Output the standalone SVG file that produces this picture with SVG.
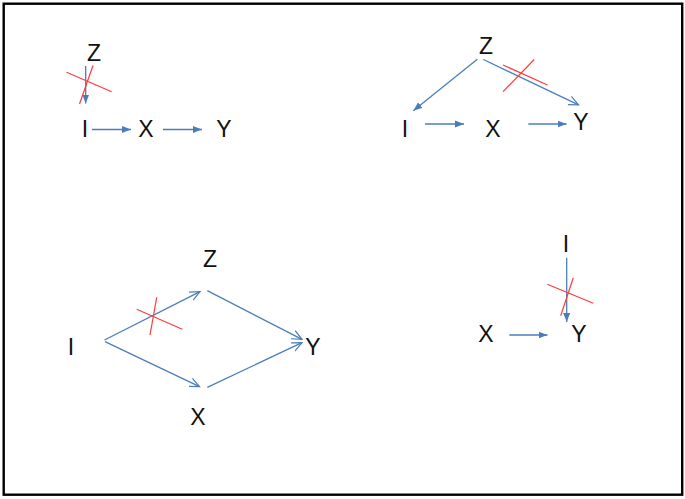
<svg xmlns="http://www.w3.org/2000/svg" width="685" height="499" viewBox="0 0 685 499">
<defs>
<marker id="fill" markerWidth="10" markerHeight="8" refX="9" refY="4" orient="auto" markerUnits="userSpaceOnUse">
<path d="M0,0.5 L9,4 L0,7.5 Z" fill="#4A7EBB"/>
</marker>
<marker id="open" markerWidth="12" markerHeight="12" refX="10" refY="6" orient="auto" markerUnits="userSpaceOnUse">
<path d="M0,1.5 L10,6 L0,10.5" fill="none" stroke="#4A7EBB" stroke-width="1.2"/>
</marker>
</defs>
<style>
text{font-family:"Liberation Sans",Arial,sans-serif;font-size:23px;fill:#111;text-anchor:middle}
.a{stroke:#4A7EBB;stroke-width:1.3;fill:none}
.f{marker-end:url(#fill)}
.o{marker-end:url(#open)}
.x{stroke:#FF3B3B;stroke-width:1.2;fill:none}
</style>
<rect x="3.7" y="3.7" width="678.5" height="491" fill="#fff" stroke="#000" stroke-width="2.4"/>
<g id="d1">
<g id="d1-Z"><text x="94" y="61">Z</text></g>
<g id="d1-I"><text x="85" y="137">I</text></g>
<g id="d1-X"><text x="146" y="137">X</text></g>
<g id="d1-Y"><text x="224" y="137">Y</text></g>
</g>
<g id="d2">
<g id="d2-Z"><text x="486" y="54">Z</text></g>
<g id="d2-I"><text x="405" y="137">I</text></g>
<g id="d2-X"><text x="493" y="137">X</text></g>
<g id="d2-Y"><text x="581" y="130">Y</text></g>
</g>
<g id="d3">
<g id="d3-Z"><text x="210" y="267">Z</text></g>
<g id="d3-I"><text x="71" y="355">I</text></g>
<g id="d3-X"><text x="198" y="425">X</text></g>
<g id="d3-Y"><text x="313" y="355">Y</text></g>
</g>
<g id="d4">
<g id="d4-I"><text x="566" y="252">I</text></g>
<g id="d4-X"><text x="486" y="342">X</text></g>
<g id="d4-Y"><text x="579" y="342">Y</text></g>
</g>
<g id="connectors">
<line class="a f" x1="85.7" y1="66" x2="85.7" y2="103.5"/>
<line class="a f" x1="92" y1="129.5" x2="131" y2="129.5"/>
<line class="a f" x1="163" y1="129.5" x2="202" y2="129.5"/>
<line class="a f" x1="477.3" y1="59.3" x2="413.3" y2="110.7"/>
<line class="a o" x1="483.3" y1="59.5" x2="578.5" y2="104.8"/>
<line class="a f" x1="425" y1="124" x2="464" y2="124"/>
<line class="a f" x1="528.3" y1="124" x2="566.5" y2="124"/>
<line class="a o" x1="104.5" y1="340" x2="200" y2="291.7"/>
<line class="a o" x1="105" y1="341.7" x2="199.5" y2="386.7"/>
<line class="a o" x1="207.3" y1="290.7" x2="302" y2="339.3"/>
<line class="a o" x1="207.3" y1="387.3" x2="302" y2="342.7"/>
<line class="a f" x1="566.7" y1="257.7" x2="566.7" y2="322"/>
<line class="a f" x1="509.3" y1="335" x2="547.5" y2="335"/>
</g>
<g id="cuts">
<line class="x" x1="66.5" y1="72.3" x2="111.7" y2="91.7"/>
<line class="x" x1="93" y1="65.5" x2="79.5" y2="104"/>
<line class="x" x1="503" y1="65" x2="547.5" y2="85"/>
<line class="x" x1="534.2" y1="59.5" x2="503" y2="91.7"/>
<line class="x" x1="136.7" y1="309.3" x2="182.3" y2="329.3"/>
<line class="x" x1="156.7" y1="297.3" x2="150" y2="335"/>
<line class="x" x1="547.3" y1="284.3" x2="593.3" y2="303.3"/>
<line class="x" x1="573.3" y1="277.7" x2="560.7" y2="315.7"/>
</g>
</svg>
